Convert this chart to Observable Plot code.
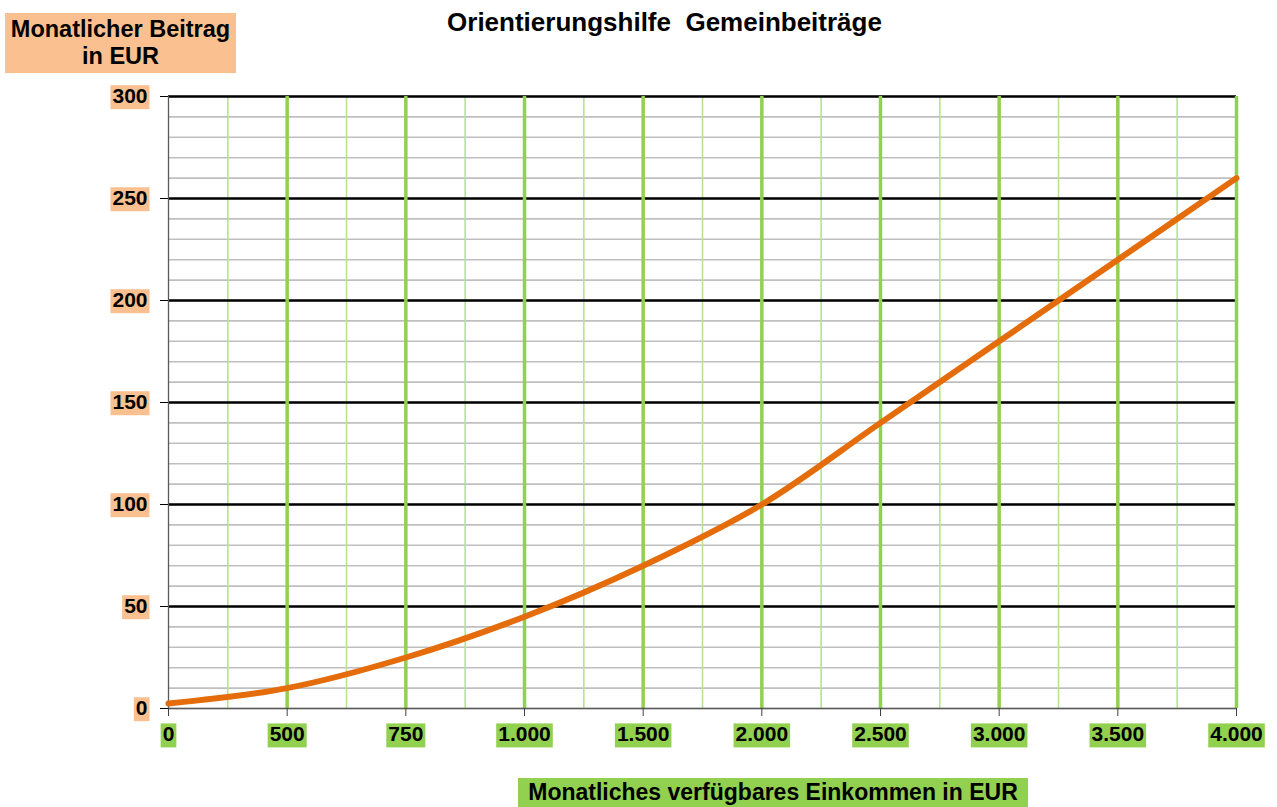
<!DOCTYPE html>
<html><head><meta charset="utf-8">
<script src="https://cdn.jsdelivr.net/npm/d3@7"></script>
<script src="https://cdn.jsdelivr.net/npm/@observablehq/plot@0.6"></script>
<style>
body{margin:0;background:#fff;font-family:"Liberation Sans",Arial,sans-serif;}
#wrap{position:relative;width:1277px;height:807px;overflow:hidden;background:#fff}
#chart{position:absolute;left:0;top:0}
.lbl{position:absolute;font-weight:bold;color:#000;text-align:center;white-space:nowrap}
</style></head><body>
<div id="wrap">
<div id="chart"></div>
<div class="lbl" style="left:0;width:1329px;top:7px;font-size:26px;line-height:30px">Orientierungshilfe&nbsp; Gemeinbeiträge</div>
<div class="lbl" style="left:5px;width:231px;top:13px;height:60px;background:#FAC090;padding-top:3px;box-sizing:border-box;font-size:23.5px;line-height:27px">Monatlicher Beitrag<br>in EUR</div>
<div class="lbl" style="left:518px;width:510px;top:778px;height:29px;background:#92D050;font-size:23px;line-height:29px">Monatliches verfügbares Einkommen in EUR</div>
</div>
<script>
const incomes = [0, 500, 750, 1000, 1500, 2000, 2500, 3000, 3500, 4000];
const incomeLabels = ["0", "500", "750", "1.000", "1.500", "2.000", "2.500", "3.000", "3.500", "4.000"];
const contributions = [2.5, 10, 25, 45, 70, 100, 140, 180, 220, 260];
const yTicks = [0, 50, 100, 150, 200, 250, 300];

const idx = incomes.map((_, i) => i);
const data = incomes.map((inc, i) => ({i, income: inc, value: contributions[i]}));

const plot = Plot.plot({
  width: 1277,
  height: 807,
  marginTop: 96,
  marginBottom: 99,
  marginLeft: 168,
  marginRight: 41,
  style: {fontFamily: "'Liberation Sans', Arial, sans-serif", fontSize: "21px", fontWeight: "bold", color: "#000", background: "transparent"},
  x: {type: "linear", domain: [0, incomes.length - 1], axis: null},
  y: {domain: [0, 300], axis: null},
  marks: [
    Plot.ruleY(d3.range(0, 301, 10), {stroke: "#BFBFBF", strokeWidth: 1.6}),
    Plot.ruleX(idx.slice(0, -1).map(i => i + 0.5), {stroke: "#B9E291", strokeWidth: 1.6}),
    Plot.ruleY(yTicks.slice(1), {stroke: "#000", strokeWidth: 2.6}),
    Plot.ruleX(idx.slice(1), {stroke: "#92D050", strokeWidth: 3.5}),
    Plot.ruleX([0], {stroke: "#595959", strokeWidth: 1.3}),
    Plot.ruleY([0], {stroke: "#595959", strokeWidth: 1.3}),
    Plot.line(data, {x: "i", y: "value", stroke: "#E46C0A", strokeWidth: 6, curve: "catmull-rom"}),
    Plot.axisY({ticks: yTicks, tickSize: 8, tickPadding: 13, label: null, stroke: "#000", fill: "#000"}),
    Plot.axisX({ticks: idx, tickFormat: i => incomeLabels[i], tickSize: 8, tickPadding: 10, label: null, stroke: "#404040", fill: "#000"})
  ]
});
document.getElementById("chart").append(plot);

function boxes(sel, fill) {
  plot.querySelectorAll(sel).forEach(g => {
    g.querySelectorAll("text").forEach(t => {
      const b = t.getBBox();
      const r = document.createElementNS("http://www.w3.org/2000/svg", "rect");
      r.setAttribute("x", b.x - 2);
      r.setAttribute("y", b.y + 1);
      r.setAttribute("width", b.width + 4);
      r.setAttribute("height", b.height + 1);
      if (t.getAttribute("transform")) r.setAttribute("transform", t.getAttribute("transform"));
      r.setAttribute("fill", fill);
      r.setAttribute("stroke", "none");
      t.parentNode.insertBefore(r, t);
    });
  });
}
boxes('g[aria-label="y-axis tick label"]', "#FAC090");
boxes('g[aria-label="x-axis tick label"]', "#92D050");
</script>
</body></html>
